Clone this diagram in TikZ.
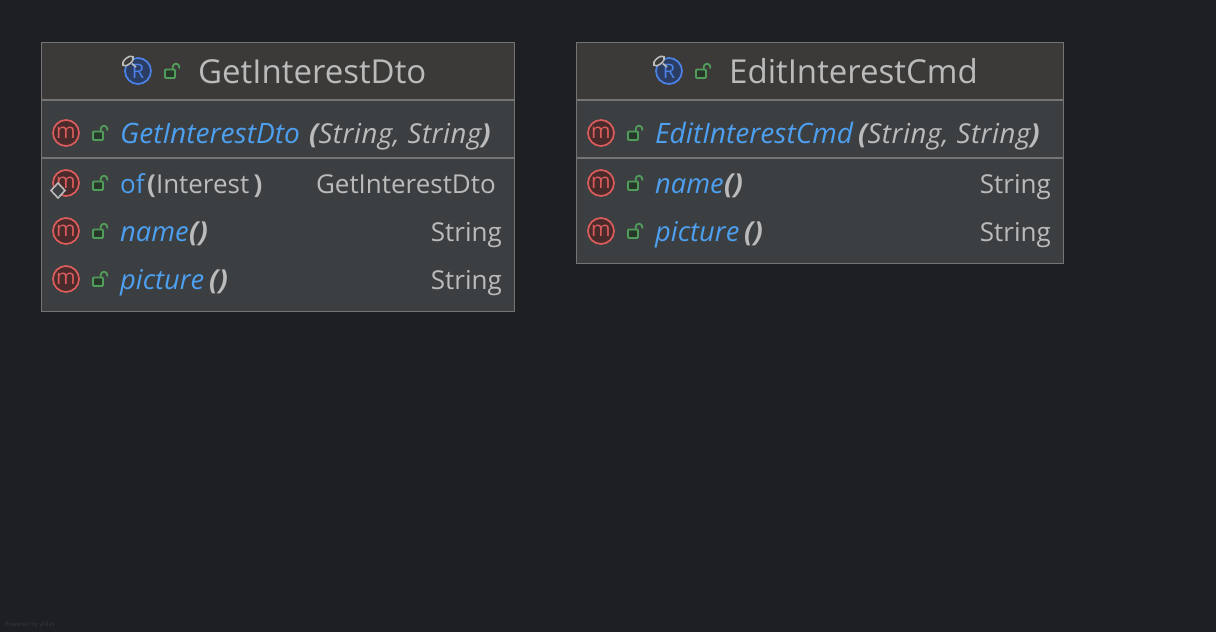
\documentclass[tikz,border=0pt]{standalone}
\usepackage{fontspec}
\setmainfont{Open Sans}
\definecolor{bgc}{HTML}{1E1F22}
\definecolor{headc}{HTML}{3B3A39}
\definecolor{bodyc}{HTML}{3C3F41}
\definecolor{edgec}{HTML}{747474}
\definecolor{textc}{HTML}{BBBBBB}
\definecolor{bluec}{HTML}{4D9FF0}
\definecolor{redc}{HTML}{DB5C5C}
\definecolor{redf}{HTML}{4A2B2B}
\definecolor{greenc}{HTML}{529C5B}
\definecolor{greenf}{HTML}{27382A}
\definecolor{classc}{HTML}{4B82E8}
\definecolor{classf}{HTML}{2B3D63}
\definecolor{wmark}{HTML}{37383B}
\tikzset{x=1pt,y=-1pt,
 boxbody/.style={fill=bodyc,inner sep=0pt,anchor=north west},
 sepline/.style={draw=edgec,line width=1.5pt},
 frameline/.style={draw=edgec,line width=1.5pt},
 titletext/.style={anchor=base west,inner sep=0pt,text=textc,font=\fontsize{33}{36}\selectfont},
 blue/.style={anchor=base west,inner sep=0pt,text=bluec,font=\fontsize{26}{30}\selectfont},
 blueit/.style={blue,font=\fontsize{27.3}{30}\selectfont\itshape},
 bluect/.style={blue,font=\fontsize{28.1}{30}\selectfont\itshape},
 grey/.style={anchor=base west,inner sep=0pt,text=textc,font=\fontsize{26}{30}\selectfont},
 greyit/.style={grey,font=\fontsize{27.5}{30}\selectfont\itshape\addfontfeature{LetterSpace=2.2}},
 greybf/.style={grey,font=\fontsize{27.5}{30}\selectfont\itshape\bfseries},
 greyr/.style={anchor=base east,inner sep=0pt,text=textc,font=\fontsize{26}{30}\selectfont},
 micon/.style={circle,draw=redc,fill=redf,line width=1.7pt,minimum size=26pt,inner sep=0pt,text=redc,font=\fontsize{21}{24}\selectfont},
 cicon/.style={circle,draw=classc,fill=classf,line width=1.7pt,minimum size=26pt,inner sep=0pt,text=classc,font=\fontsize{20}{24}\selectfont},
}
\newcommand{\lockicon}[2]{%
 \fill[greenf,draw=greenc,line width=1.8pt,rounded corners=1pt] (#1-7,#2-1.5) rectangle (#1+3,#2+7);
 \draw[greenc,line width=1.8pt,line cap=round] (#1+0.7,#2-1.5) -- (#1+0.7,#2-4) arc[start angle=180,end angle=0,radius=3.3pt] -- (#1+7.3,#2-3);
}
\newcommand{\pin}[2]{%
 \draw[draw=textc,line width=1.6pt,fill=headc,rotate around={40:(#1,#2)}] (#1,#2) ellipse[x radius=6.5pt,y radius=3.2pt];
 \draw[textc,line width=1.6pt] (#1+3.7,#2+2.5) -- (#1+8,#2+6);
}
\begin{document}
\begin{tikzpicture}
\useasboundingbox (0,0) rectangle (1216,632);
\fill[bgc] (0,0) rectangle (1216,632);
\node[anchor=base west,inner sep=0pt,text=wmark,font=\fontsize{6}{7}\selectfont] (wm) at (5,626) {Powered by yFiles};

% ---- GetInterestDto
\node[boxbody,minimum width=474pt,minimum height=270pt] (boxA) at (41,42) {};
\fill[headc] (41,42) rectangle (515,100);
\draw[sepline] (41,100) -- (515,100);
\draw[sepline] (41,158) -- (515,158);
\draw[frameline] (41.5,42.5) rectangle (514.5,311.5);
\node[cicon] (cA) at (138,71) {R};
\pin{128}{61}
\lockicon{172}{71}
\node[titletext] (tA) at (198,83) {GetInterestDto};

\node[micon] (a1) at (66,133) {m};
\lockicon{100}{133}
\node[bluect] (a1n) at (120,143) {GetInterestDto};
\node[greyit] (a1a) at (309,143) {\textbf{(}String, String\textbf{)}};

\node[micon] (a2) at (66,183) {m};
\draw[textc,line width=1.6pt,fill=bodyc] (58,183) -- (65,190.5) -- (58,198) -- (51,190.5) -- cycle;
\lockicon{100}{183}
\node[blue] (a2n) at (120,193) {of};
\node[grey] (a2a) at (147,193) {\textbf{(}Interest\,\textbf{)}};
\node[greyr] (a2r) at (496,193) {GetInterestDto};

\node[micon] (a3) at (66,231) {m};
\lockicon{100}{231}
\node[blueit] (a3n) at (120,241) {name};
\node[greybf] (a3a) at (189,241) {()};
\node[greyr] (a3r) at (502,241) {String};

\node[micon] (a4) at (66,279) {m};
\lockicon{100}{279}
\node[blueit] (a4n) at (120,289) {picture};
\node[greybf] (a4a) at (209,289) {()};
\node[greyr] (a4r) at (502,289) {String};

% ---- EditInterestCmd
\node[boxbody,minimum width=488pt,minimum height=222pt] (boxB) at (576,42) {};
\fill[headc] (576,42) rectangle (1064,100);
\draw[sepline] (576,100) -- (1064,100);
\draw[sepline] (576,158) -- (1064,158);
\draw[frameline] (576.5,42.5) rectangle (1063.5,263.5);
\node[cicon] (cB) at (669,71) {R};
\pin{659}{61}
\lockicon{703}{71}
\node[titletext] (tB) at (729,83) {EditInterestCmd};

\node[micon] (b1) at (601,133) {m};
\lockicon{635}{133}
\node[bluect] (b1n) at (655,143) {EditInterestCmd};
\node[greyit] (b1a) at (858,143) {\textbf{(}String, String\textbf{)}};

\node[micon] (b2) at (601,183) {m};
\lockicon{635}{183}
\node[blueit] (b2n) at (655,193) {name};
\node[greybf] (b2a) at (724,193) {()};
\node[greyr] (b2r) at (1051,193) {String};

\node[micon] (b3) at (601,231) {m};
\lockicon{635}{231}
\node[blueit] (b3n) at (655,241) {picture};
\node[greybf] (b3a) at (744,241) {()};
\node[greyr] (b3r) at (1051,241) {String};
\end{tikzpicture}
\end{document}
